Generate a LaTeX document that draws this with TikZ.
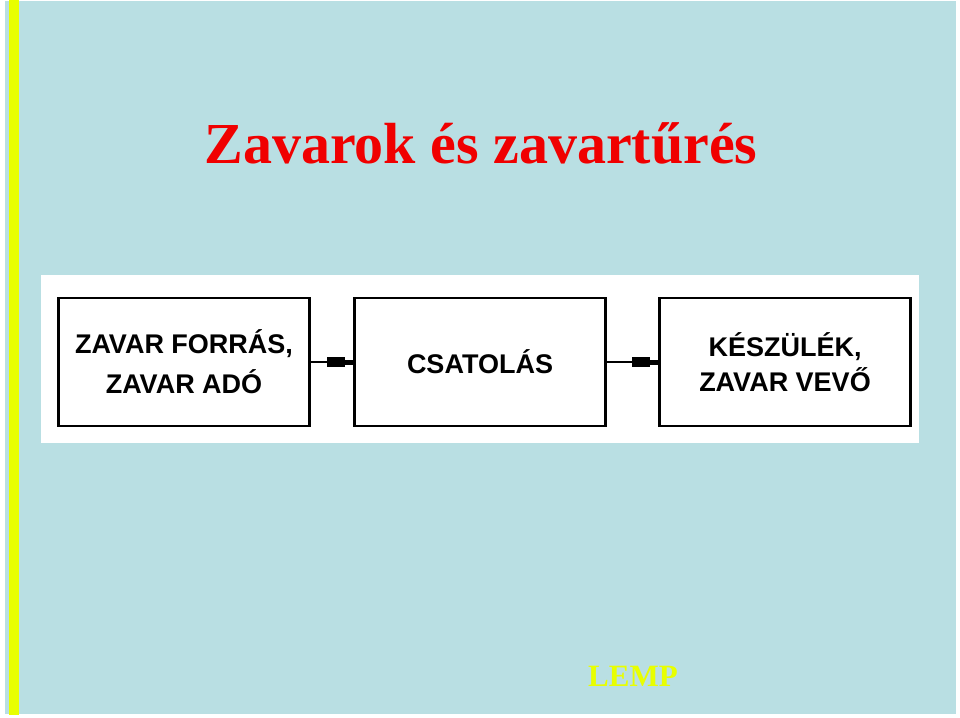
\documentclass[tikz,border=0pt]{standalone}
\usepackage{fontspec}
\setmainfont{Liberation Serif}
\newfontfamily\arialfont{Liberation Sans}
\usetikzlibrary{arrows.meta,positioning}
\definecolor{slideblue}{RGB}{185,223,227}
\definecolor{barYellow}{RGB}{232,255,0}
\definecolor{titleRed}{RGB}{240,0,0}

\begin{document}
\begin{tikzpicture}[x=1pt, y=-1pt,
    blok/.style={draw, line width=2.5pt, minimum width=251pt, minimum height=128pt,
                 align=center, font=\arialfont\bfseries\fontsize{27}{40}\selectfont},
    csatl/.style={line width=2pt, -{Rectangle[length=18pt,width=10pt,sep=0pt]Rectangle[length=8pt,width=5pt]}}]
   \useasboundingbox (0,0) rectangle (960,717);
   % background of the slide
   \fill[slideblue] (5,1) rectangle (956,714);
   \fill[barYellow] (9,0) rectangle (19,715);
   \fill[white] (41,275) rectangle (919,443);

   \node[anchor=base, text=titleRed, font=\bfseries\fontsize{58}{60}\selectfont] (cim) at (481,163) {Zavarok és zavartűrés};

   \node[blok] (forras) at (184,362) {ZAVAR FORRÁS,\\ZAVAR ADÓ};
   \node[blok] (csatolas) at (480,362) {CSATOLÁS};
   \node[blok, font=\arialfont\bfseries\fontsize{27}{35}\selectfont] (vevo) at (785,362) {KÉSZÜLÉK,\\ZAVAR VEVŐ};

  \path[csatl]
    (forras) edge (csatolas)
    (csatolas) edge (vevo);

   \node[anchor=base, text=barYellow, font=\bfseries\fontsize{31}{33}\selectfont] (lemp) at (633,686) {LEMP};
  \end{tikzpicture}
\end{document}
